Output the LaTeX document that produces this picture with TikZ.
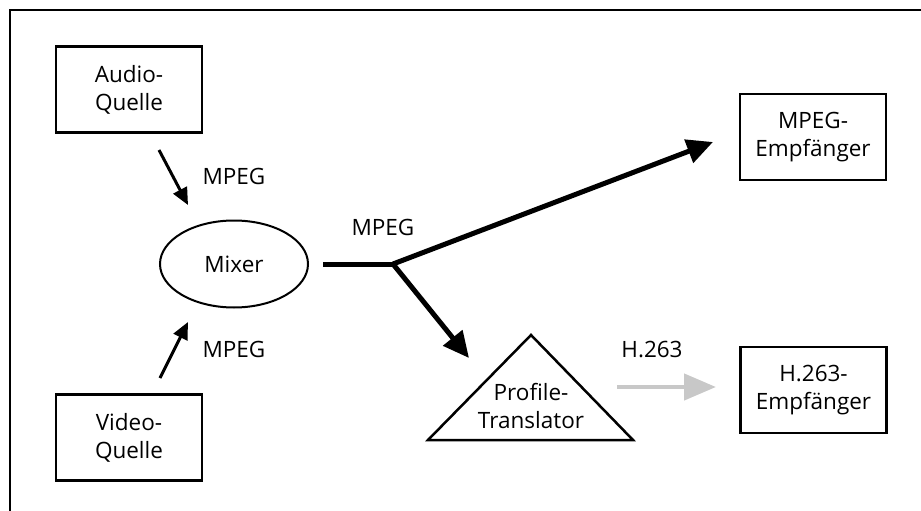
\documentclass[tikz,border=0pt]{standalone}
\usepackage{fontspec}
\setmainfont{Open Sans}
\usetikzlibrary{arrows.meta,shapes.geometric}
\begin{document}
\begin{tikzpicture}[x=1pt,y=-1pt,
  every node/.style={font=\fontsize{22.5}{28}\selectfont, align=center, inner sep=0pt},
  box/.style={draw, line width=2.5pt, minimum width=146pt, minimum height=86pt},
  lbl/.style={},
  thin arrow/.style={line width=3pt, -{Triangle[length=17pt,width=15pt]}},
  thick line/.style={line width=5pt},
  thick arrow/.style={line width=5pt, -{Triangle[length=26pt,width=24pt]}},
  gray arrow/.style={line width=4.5pt, draw={rgb,255:red,200;green,200;blue,200}, -{Triangle[length=32pt,width=26pt]}}
]
\useasboundingbox (0,0) rectangle (921,511);
\draw[line width=1.5pt] (10,511) -- (10,10) -- (921,10);

\node[box] (audio) at (129,89.5) {Audio-\\Quelle};
\node[box] (video) at (129,437.5) {Video-\\Quelle};
\node[draw, ellipse, line width=2pt, minimum width=148pt, minimum height=87pt] (mixer) at (234,264) {Mixer};
\node[box] (mpegrx) at (813,137) {MPEG-\\Empfänger};
\node[box] (h263rx) at (813.5,390) {H.263-\\Empfänger};

\draw[line width=2.5pt, line join=miter] (531,335) -- (633,440) -- (428,440) -- cycle;
\node (trans) at (531,406) {Profile-\\Translator};

\node[lbl] (l1) at (234,176) {MPEG};
\node[lbl] (l2) at (234,349) {MPEG};
\node[lbl] (l3) at (383,227) {MPEG};
\node[lbl] (l4) at (652,350) {H.263};

\coordinate (a1) at (159,150);
\coordinate (a2) at (188,205);
\coordinate (v1) at (160,378);
\coordinate (v2) at (188,322);
\coordinate (m1) at (323,264);
\coordinate (j) at (393,264);
\coordinate (t1) at (713,142);
\coordinate (t2) at (469,358);
\coordinate (g1) at (617,387);
\coordinate (g2) at (716,387);

\draw[thin arrow] (a1) -- (a2);
\draw[thin arrow] (v1) -- (v2);
\draw[thick line, line join=miter] (m1) -- (j);
\draw[thick arrow] (j) -- (t1);
\draw[thick arrow] (j) -- (t2);
\draw[gray arrow] (g1) -- (g2);
\end{tikzpicture}
\end{document}
